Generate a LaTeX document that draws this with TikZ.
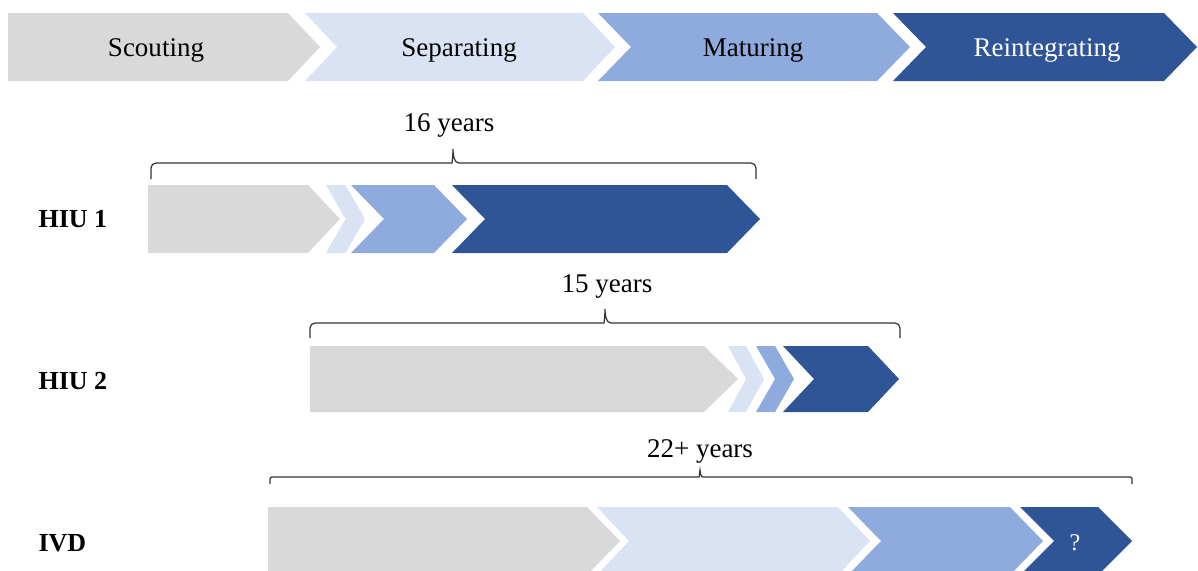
\documentclass[tikz,border=0pt]{standalone}
\usepackage{fontspec}
\setmainfont{Liberation Serif}
\usepackage{xcolor}
\usetikzlibrary{calc}
\definecolor{scoutgray}{HTML}{D9D9D9}
\definecolor{sepblue}{HTML}{DAE3F3}
\definecolor{matblue}{HTML}{8FAADC}
\definecolor{reintblue}{HTML}{2F5597}

\begin{document}
\begin{tikzpicture}[x=1pt, y=-1pt,
  phase/.style={font=\fontsize{27}{32}\selectfont},
  span/.style={font=\fontsize{27}{32}\selectfont},
  case/.style={font=\fontsize{26}{31}\selectfont\bfseries, anchor=west},
  brk/.style={line width=1.2pt, black!80}]
\useasboundingbox (0,0) rectangle (1198,570);

% Phases: the four steps of the process
\foreach \xa/\xb/\d/\n/\c in {8/320/32/0/scoutgray, 305/615/32/32/sepblue,
    598/910/33/33/matblue, 893/1197/33/33/reintblue} {
    \fill[\c] (\xa,13) -- (\xb-\d,13) -- (\xb,47) -- (\xb-\d,81) -- (\xa,81) -- (\xa+\n,47) -- cycle;
}
\node[phase] (scouting) at (156,50) {Scouting};
\node[phase] (separating) at (459,50) {Separating};
\node[phase] (maturing) at (753,50) {Maturing};
\node[phase, text=white] (reintegrating) at (1047,50) {Reintegrating};

% Case 1: HIU 1
\node[case] (hiu1) at (35,219) {HIU 1};
\foreach \xa/\xb/\d/\n/\c in {148/340/32/0/scoutgray, 326/365/19.5/19.5/sepblue,
    351/467/33/33/matblue, 452/760/33/33/reintblue} {
    \fill[\c] (\xa,185) -- (\xb-\d,185) -- (\xb,219) -- (\xb-\d,253) -- (\xa,253) -- (\xa+\n,219) -- cycle;
}
\coordinate (b1l) at (151,179);
\coordinate (b1r) at (756,179);
\coordinate (b1m) at (453,163);
\draw[brk] (b1l) [rounded corners=5pt] |- ($(b1m)+(-6,0)$) [sharp corners]
    .. controls +(5,0) and +(0,6) .. ($(b1m)+(0,-14)$)
    .. controls +(0,6) and +(-5,0) .. ($(b1m)+(6,0)$) [rounded corners=5pt] -| (b1r);
\node[span] (yrs1) at (449,125) {16 years};

% Case 2: HIU 2
\node[case] (hiu2) at (35,381) {HIU 2};
\foreach \xa/\xb/\d/\n/\c in {310/738/34/0/scoutgray, 728/764/18/18/sepblue,
    756/794/19/19/matblue, 783/899/31/31/reintblue} {
    \fill[\c] (\xa,346) -- (\xb-\d,346) -- (\xb,379) -- (\xb-\d,412) -- (\xa,412) -- (\xa+\n,379) -- cycle;
}
\coordinate (b2l) at (310,338);
\coordinate (b2r) at (900,338);
\coordinate (b2m) at (605,323);
\draw[brk] (b2l) [rounded corners=5pt] |- ($(b2m)+(-6,0)$) [sharp corners]
    .. controls +(5,0) and +(0,6) .. ($(b2m)+(0,-14)$)
    .. controls +(0,6) and +(-5,0) .. ($(b2m)+(6,0)$) [rounded corners=5pt] -| (b2r);
\node[span] (yrs2) at (607,286) {15 years};

% Case 3: IVD (still running)
\node[case] (ivd) at (35,543) {IVD};
\foreach \xa/\xb/\d/\n/\c in {268/620/33/0/scoutgray, 597/870/32/32/sepblue,
    848/1043/33/33/matblue, 1020/1132/34/34/reintblue} {
    \fill[\c] (\xa,507) -- (\xb-\d,507) -- (\xb,541) -- (\xb-\d,575) -- (\xa,575) -- (\xa+\n,541) -- cycle;
}
\node[phase, text=white, font=\fontsize{24}{28}\selectfont] (unknown) at (1075,543) {?};
\coordinate (b3l) at (270,484);
\coordinate (b3r) at (1132,484);
\coordinate (b3m) at (700,477);
\draw[brk] (b3l) [rounded corners=2pt] |- ($(b3m)+(-3,0)$) [sharp corners]
    .. controls +(2,0) and +(0,3) .. ($(b3m)+(0,-7)$)
    .. controls +(0,3) and +(-2,0) .. ($(b3m)+(3,0)$) [rounded corners=2pt] -| (b3r);
\node[span] (yrs3) at (700,451) {22+ years};
\end{tikzpicture}
\end{document}
